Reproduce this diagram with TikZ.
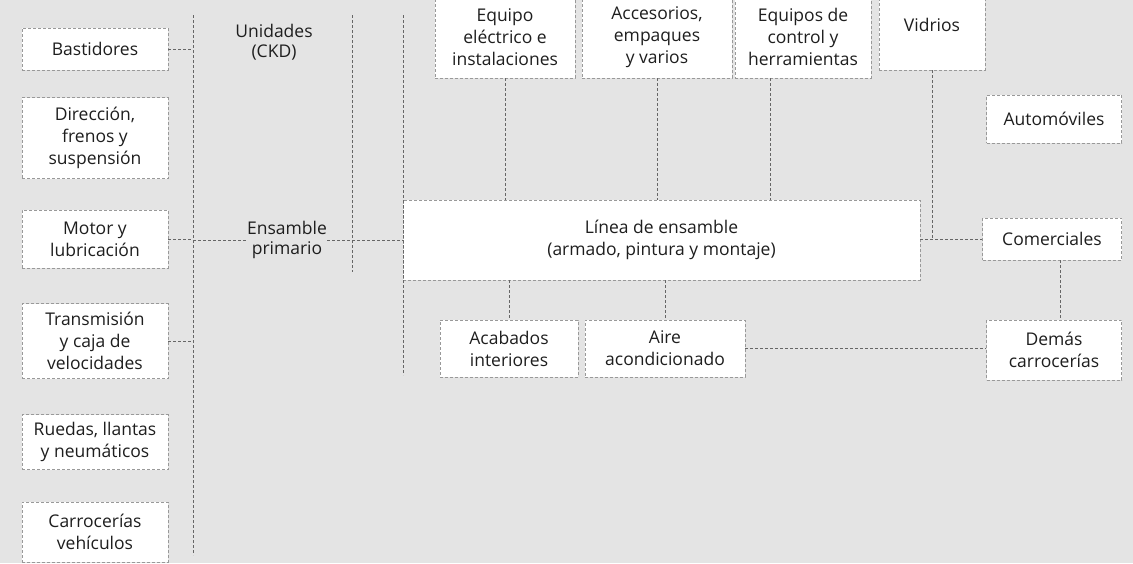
\documentclass[tikz,border=0pt]{standalone}
\usepackage{fontspec}
\setmainfont{Open Sans}
\usetikzlibrary{positioning}
\definecolor{bgc}{HTML}{E4E4E4}
\definecolor{txt}{HTML}{1E1E1E}
\tikzset{
  box/.style={draw=black!40, densely dashed, line width=0.5pt, fill=white,
    align=center, inner sep=0pt, text=txt,
    font=\fontsize{17.5}{22}\selectfont},
  plain/.style={align=center, inner sep=0pt, text=txt,
    font=\fontsize{17.5}{20}\selectfont},
  link/.style={draw=black!60, dashed, dash pattern=on 3pt off 2pt, line width=0.7pt},
}
\begin{document}
\begin{tikzpicture}[x=1pt,y=-1pt]
\fill[bgc] (0,0) rectangle (1133,563);
\useasboundingbox (0,0) rectangle (1133,563);

% left column
\node[box, minimum width=146, minimum height=42] (bast) at (95,49) {Bastidores};
\node[box, minimum width=146, minimum height=81] (dir) at (95,138) {Dirección,\\frenos y\\suspensión};
\node[box, minimum width=146, minimum height=58] (mot) at (95,239) {Motor y\\lubricación};
\node[box, minimum width=146, minimum height=75] (trans) at (95,341) {Transmisión\\y caja de\\velocidades};
\node[box, minimum width=146, minimum height=55] (rued) at (95,442) {Ruedas, llantas\\y neumáticos};
\node[box, minimum width=146, minimum height=60] (carr) at (95,532) {Carrocerías\\vehículos};

% middle column
\node[plain] (ckd) at (274,42) {Unidades\\(CKD)};
\node[plain] (ens) at (287,240) {Ensamble\\primario};

% central assembly line
\node[box, minimum width=517, minimum height=80] (linea) at (661.5,240) {Línea de ensamble\\(armado, pintura y montaje)};

% top row
\node[box, minimum width=140, minimum height=82] (equ) at (505,37) {Equipo\\eléctrico e\\instalaciones};
\node[box, minimum width=150, minimum height=82] (acc) at (657,37) {Accesorios,\\empaques\\y varios};
\node[box, minimum width=136, minimum height=82] (eqc) at (803,37) {Equipos de\\control y\\herramientas};
\node[box, minimum width=106, minimum height=90] (vid) at (932,25) {Vidrios};

% bottom row
\node[box, minimum width=138, minimum height=57] (acab) at (509,348.5) {Acabados\\interiores};
\node[box, minimum width=160, minimum height=57] (aire) at (665,348.5) {Aire\\acondicionado};

% right column
\node[box, minimum width=135, minimum height=48] (auto) at (1054,119) {Automóviles};
\node[box, minimum width=139, minimum height=42] (com) at (1052,239) {Comerciales};
\node[box, minimum width=135, minimum height=60] (dem) at (1054,350) {Demás\\carrocerías};

% guide coordinates
\coordinate (trunkTop) at (193,15);
\coordinate (trunkBot) at (193,555);
\coordinate (colTop) at (352,15);
\coordinate (colBot) at (352,272);
\coordinate (grpTop) at (403,15);
\coordinate (grpBot) at (403,375);

% connectors
\draw[link] (trunkTop) -- (trunkBot);
\draw[link] (colTop) -- (colBot);
\draw[link] (grpTop) -- (grpBot);
\draw[link] (bast.east) -- (bast.east -| trunkTop);
\draw[link] (mot.east) -- (mot.east -| trunkTop);
\draw[link] (trans.east) -- (trans.east -| trunkTop);
\draw[link] (ens.west -| trunkTop) -- (ens.west);
\draw[link] (ens.east) -- (linea.west);

\draw[link] (equ.south) -- (equ.south |- linea.north);
\draw[link] (acc.south) -- (acc.south |- linea.north);
\draw[link] ([xshift=-33pt]eqc.south) -- ([xshift=-33pt]eqc.south |- linea.north);
\draw[link] (vid.south) -- (vid.south |- com.west);
\draw[link] (linea.east |- com.west) -- (com.west);

\draw[link] (acab.north |- linea.south) -- (acab.north);
\draw[link] (aire.north |- linea.south) -- (aire.north);
\draw[link] (aire.east) -- (dem.west |- aire.east);
\draw[link] ([xshift=8pt]com.south) -- ([xshift=8pt]com.south |- dem.north);
\end{tikzpicture}
\end{document}
